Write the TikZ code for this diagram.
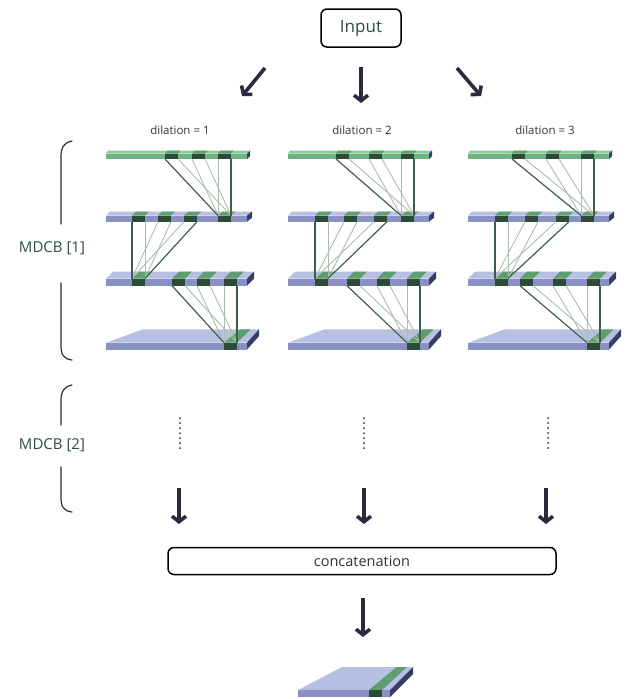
\documentclass[tikz,border=0pt]{standalone}
\usepackage{fontspec}
\setmainfont{Open Sans}
\usetikzlibrary{arrows.meta}

\definecolor{slabtop}{HTML}{B7BFE3}
\definecolor{slabfront}{HTML}{8891C6}
\definecolor{slabside}{HTML}{363C66}
\definecolor{greentop}{HTML}{8DCB9B}
\definecolor{greenfront}{HTML}{70B282}
\definecolor{cellfront}{HTML}{2D4A36}
\definecolor{celltop}{HTML}{5F9E6E}
\definecolor{linkdark}{HTML}{3E5F47}
\definecolor{linklight}{HTML}{ABBDAB}
\definecolor{arrowcol}{HTML}{2A2B3D}
\definecolor{labelgreen}{HTML}{2F4F3F}

\tikzset{
	bigarrow/.style={draw=arrowcol, line width=3.6pt, -{Straight Barb[length=5.5pt,width=14pt]}},
	darklink/.style={draw=linkdark, line width=1.1pt},
	lightlink/.style={draw=linklight, line width=0.9pt},
	bracket/.style={draw=arrowcol, line width=1.2pt, line cap=round},
	dotline/.style={draw=arrowcol, line width=2pt, line cap=round, dash pattern=on 0pt off 5pt},
	box/.style={draw=black, line width=1.5pt, rounded corners=6pt, fill=white},
	dil/.style={font=\fontsize{11.5}{13}\selectfont, text=black!80},
	blockname/.style={font=\fontsize{15}{17}\selectfont, text=labelgreen},
}

% slab: x0, x1, front top, front bottom, depth, left shift, right shift
\def\setslab#1#2#3#4#5#6#7{\pgfmathsetmacro\sxa{#1}\pgfmathsetmacro\sxb{#2}%
	\def\syt{#3}\def\syb{#4}\def\sd{#5}\def\sls{#6}\def\srs{#7}}
\def\slab#1#2{%
	\fill[#1] (\sxa,\syt) -- (\sxb,\syt) -- (\sxb+\srs,\syt-\sd) -- (\sxa+\sls,\syt-\sd) -- cycle;
	\fill[#2] (\sxa,\syt) rectangle (\sxb,\syb);
	\fill[slabside] (\sxb,\syt) -- (\sxb+\srs,\syt-\sd) -- (\sxb+\srs,\syb-\sd) -- (\sxb,\syb) -- cycle;}
\def\cells#1{\foreach \c in {#1}{%
	\fill[celltop] (\c,\syt) -- (\c+13,\syt)
		-- ({\c+13+\sls+(\c+13-\sxa)/(\sxb-\sxa)*(\srs-\sls)},\syt-\sd)
		-- ({\c+\sls+(\c-\sxa)/(\sxb-\sxa)*(\srs-\sls)},\syt-\sd) -- cycle;
	\fill[cellfront] (\c,\syt) rectangle (\c+13,\syb);}}
% fan of links: source cells, source bottom, target cell, target top
\def\fan#1#2#3#4{%
	\foreach \s [count=\i] in {#1}{%
		\draw[lightlink] (\s,#2) -- (#3,#4);
		\draw[lightlink] (\s+13,#2) -- (#3+13,#4);
		\ifnum\i=1 \xdef\firstsrc{\s}\fi
		\xdef\lastsrc{\s}}%
	\draw[darklink] (\firstsrc,#2) -- (#3,#4);
	\draw[darklink] (\lastsrc+13,#2) -- (#3+13,#4);}
% one dilated column: x0, row1 cells, row2 cells, row2 out, row3 out, row3 cells, row4 out
\def\mdcbcol#1#2#3#4#5#6#7{%
	\setslab{#1}{#1+141}{153.5}{159}{3}{2}{3}\slab{greentop}{greenfront}\cells{#2}%
	\setslab{#1}{#1+141}{215.5}{221.7}{4}{4}{5}\slab{slabtop}{slabfront}\cells{#3,#4}%
	\setslab{#1}{#1+141}{278.5}{285.7}{7}{7}{7}\slab{slabtop}{slabfront}\cells{#5,#6}%
	\setslab{#1}{#1+141}{342.7}{349.5}{13.4}{37}{12}\slab{slabtop}{slabfront}\cells{#7}%
	\fan{#2}{159}{#4}{215.5}%
	\fan{#3}{221.7}{#5}{278.5}%
	\fan{#6}{285.7}{#7}{342.7}}

\begin{document}
\begin{tikzpicture}[x=1pt, y=-1pt]
	%%%%% START %%%%%
	\useasboundingbox (0,0) rectangle (635,699);
	
	\node[box, minimum width=80pt, minimum height=38pt, text=labelgreen,
		font=\fontsize{17}{20}\selectfont] (input) at (361,28) {Input};
	
	\coordinate (inL) at (265,68);  \coordinate (outL) at (242,96);
	\coordinate (inM) at (361,67);  \coordinate (outM) at (361,103);
	\coordinate (inR) at (457,68);  \coordinate (outR) at (481,96);
	\draw[bigarrow] (inL) -- (outL);
	\draw[bigarrow] (inM) -- (outM);
	\draw[bigarrow] (inR) -- (outR);
	
	\node[dil] (dil1) at (180,130) {dilation = 1};
	\node[dil] (dil2) at (362,130) {dilation = 2};
	\node[dil] (dil3) at (545,130) {dilation = 3};
	
	% the three stacks
	\mdcbcol{106}{165,192,218}{132,158,184}{218}{132}{172,197,224}{224}
	\mdcbcol{288}{336,369,401}{315,344,374}{401}{315}{347,377,407}{407}
	\mdcbcol{468}{512,546,581}{495,525,556}{581}{495}{520,553,587}{587}
	
	% brackets
	\node[blockname] (mdcb1) at (52,248) {MDCB [1]};
	\draw[bracket] (72,141) .. controls (63,143) and (61,148) .. (61,157) -- (61,224);
	\draw[bracket] (61,283) -- (61,345) .. controls (61,354) and (63,359) .. (72,360);
	\node[blockname] (mdcb2) at (52,445) {MDCB [2]};
	\draw[bracket] (72,385) .. controls (63,387) and (61,392) .. (61,401) -- (61,425);
	\draw[bracket] (61,467) -- (61,497) .. controls (61,506) and (63,511) .. (72,512);
	
	\draw[dotline] (180,418) -- (180,450);
	\draw[dotline] (364,418) -- (364,450);
	\draw[dotline] (548,418) -- (548,450);
	
	\coordinate (d1) at (179,488);  \coordinate (e1) at (179,524);
	\coordinate (d2) at (364,488);  \coordinate (e2) at (364,524);
	\coordinate (d3) at (546,488);  \coordinate (e3) at (546,524);
	\draw[bigarrow] (d1) -- (e1);
	\draw[bigarrow] (d2) -- (e2);
	\draw[bigarrow] (d3) -- (e3);
	
	\node[box, minimum width=388pt, minimum height=27pt, text=black!80,
		font=\fontsize{14.5}{16}\selectfont] (concat) at (362,561) {concatenation};
	
	\coordinate (cout) at (363,598);  \coordinate (oend) at (363,637);
	\draw[bigarrow] (cout) -- (oend);
	
	% output slab
	\setslab{298}{390}{690}{697}{23}{44}{23}\slab{slabtop}{slabfront}\cells{369}
	
	%%%%% END %%%%%
\end{tikzpicture}
\end{document}
